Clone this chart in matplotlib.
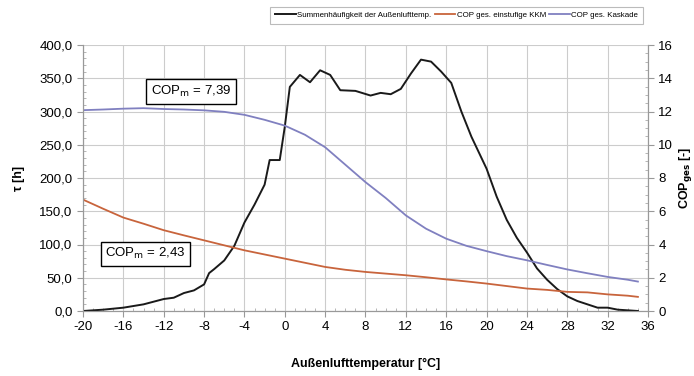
import matplotlib
matplotlib.use("Agg")
import matplotlib.pyplot as plt
from matplotlib.ticker import FuncFormatter, MultipleLocator

plt.rcParams["font.family"] = ["Liberation Sans", "DejaVu Sans"]
plt.rcParams["axes.unicode_minus"] = False

# Summenhaeufigkeit der Aussenlufttemperatur [h] (linke Achse)
temp_sum = [-20, -18, -16, -14, -12, -11, -10, -9, -8, -7.5, -7, -6, -5, -4, -3, -2,
            -1.5, -0.5, 0, 0.5, 1.5, 2.5, 3.5, 4.5, 5.5, 7, 8.5, 9.5, 10.5, 11.5,
            12.5, 13.5, 14.5, 15.5, 16.5, 17.5, 18.5, 20, 21, 22, 23, 24, 25, 26,
            27, 28, 29, 30, 31, 32, 33, 34, 35]
hours_sum = [0, 2, 5, 10, 18, 20, 27, 31, 40, 57, 63, 76, 98, 133, 160, 190,
             227, 227, 277, 337, 355, 344, 362, 355, 332, 331, 324, 328, 326, 334,
             357, 378, 375, 360, 343, 300, 262, 214, 172, 137, 110, 88, 64, 47,
             33, 22, 15, 10, 5, 5, 2, 1, 0]

# COP gesamt (rechte Achse)
temp_cop = [-20, -18, -16, -14, -12, -10, -8, -6, -4, -2, 0, 2, 4, 6, 8, 10, 12,
            14, 16, 18, 20, 22, 24, 26, 28, 30, 32, 34, 35]
cop_kkm = [6.7, 6.15, 5.62, 5.25, 4.86, 4.55, 4.25, 3.95, 3.65, 3.4, 3.15, 2.9,
           2.65, 2.48, 2.35, 2.25, 2.15, 2.03, 1.9, 1.78, 1.65, 1.5, 1.35, 1.27,
           1.15, 1.12, 1.0, 0.92, 0.85]
cop_kaskade = [12.08, 12.12, 12.17, 12.2, 12.15, 12.12, 12.07, 11.98, 11.8, 11.5,
               11.15, 10.6, 9.85, 8.8, 7.75, 6.8, 5.75, 4.95, 4.35, 3.92, 3.6, 3.3,
               3.05, 2.77, 2.5, 2.27, 2.05, 1.88, 1.77]

labels = ["Summenhäufigkeit der Außenlufttemp.", "COP ges. einstufige KKM", "COP ges. Kaskade"]
colors = ["#1a1a1a", "#c8643c", "#8080c0"]

fig = plt.figure(figsize=(6.94, 3.76), dpi=100)
ax = fig.add_axes([83 / 694, 1 - 311 / 376, (648 - 83) / 694, (311 - 45) / 376])
ax2 = ax.twinx()

l1, = ax.plot(temp_sum, hours_sum, color=colors[0], lw=1.4, zorder=5)
l2, = ax2.plot(temp_cop, cop_kkm, color=colors[1], lw=1.3)
l3, = ax2.plot(temp_cop, cop_kaskade, color=colors[2], lw=1.3)

ax.set_xlim(-20, 36)
ax.set_ylim(0, 400)
ax2.set_ylim(0, 16)
ax.xaxis.set_major_locator(MultipleLocator(4))
ax.xaxis.set_minor_locator(MultipleLocator(1))
ax.yaxis.set_major_locator(MultipleLocator(50))
ax.yaxis.set_minor_locator(MultipleLocator(10))
ax2.yaxis.set_major_locator(MultipleLocator(2))
ax2.yaxis.set_minor_locator(MultipleLocator(0.5))
ax.yaxis.set_major_formatter(FuncFormatter(lambda v, p: "{:.1f}".format(v).replace(".", ",")))

ax.grid(True, which="major", color="#cccccc", lw=0.8)
ax.set_axisbelow(True)
for a in (ax, ax2):
    for s in a.spines.values():
        s.set_color("#999999")
    a.spines["top"].set_visible(False)
    a.tick_params(which="major", length=4, color="#999999", labelsize=9.5, direction="out")
    a.tick_params(which="minor", length=2.5, color="#aaaaaa", direction="in")

ax.set_xlabel("Außenlufttemperatur [°C]", fontsize=9, fontweight="bold", labelpad=18)
ax.set_ylabel("τ [h]", fontsize=9, fontweight="bold", labelpad=10)
ax2.set_ylabel("COP$_\\mathbf{ges}$ [-]", fontsize=9, fontweight="bold", labelpad=3)

box = dict(boxstyle="square,pad=0.35", fc="white", ec="black", lw=1.0)
ax.text(-9.3, 330, "COP$_\\mathrm{m}$ = 7,39", fontsize=9.5, ha="center", va="center", bbox=box, zorder=6)
ax.text(-13.8, 86, "COP$_\\mathrm{m}$ = 2,43", fontsize=9.5, ha="center", va="center", bbox=box, zorder=6)

leg = fig.legend([l1, l2, l3], labels, loc="upper right", bbox_to_anchor=(647 / 694, 1 - 3 / 376),
                 ncol=3, fontsize=5.7, frameon=True, fancybox=False, handlelength=2.6,
                 handletextpad=0.2, columnspacing=0.4, borderpad=0.6)
leg.get_frame().set_edgecolor("#aaaaaa")
leg.get_frame().set_linewidth(0.8)

fig.savefig("out.png", dpi=100)
